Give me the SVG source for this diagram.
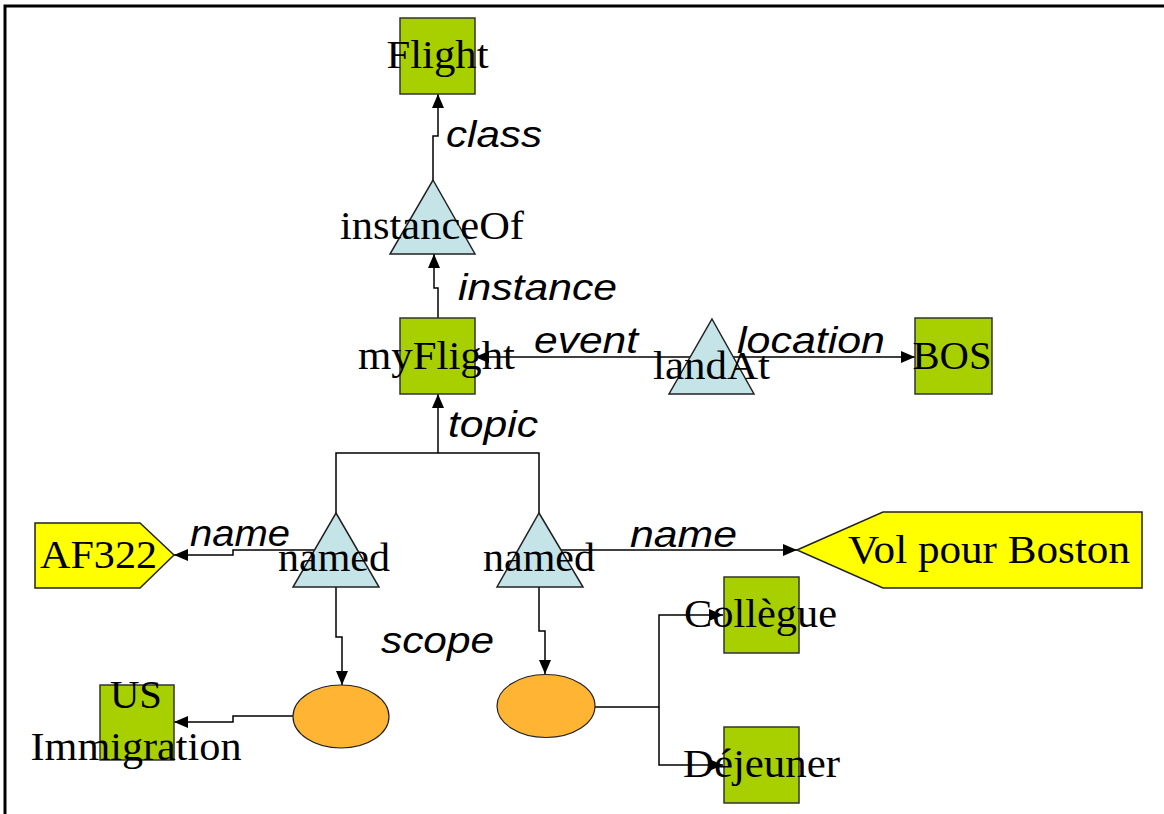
<svg xmlns="http://www.w3.org/2000/svg" width="1164" height="814" viewBox="0 0 1164 814">
<style>
.box{fill:#A8D000;stroke:#333;stroke-width:1.5}
.tri{fill:#C5E4E8;stroke:#222;stroke-width:1.5}
.tag{fill:#FFFF00;stroke:#222;stroke-width:1.5}
.ell{fill:#FFB533;stroke:#222;stroke-width:1.2}
.lbl{font-family:"Liberation Serif","Times New Roman",serif;font-size:40px;fill:#000}
.edge{font-family:"Liberation Sans",Arial,sans-serif;font-style:italic;font-size:37px;fill:#000}
.con{fill:none;stroke:#000;stroke-width:1.5}
</style>
<defs>
<marker id="arr" viewBox="0 0 14 12" refX="14" refY="6" markerWidth="14" markerHeight="12" markerUnits="userSpaceOnUse" orient="auto">
<path d="M0,0 L14,6 L0,12 Z" fill="#000"/>
</marker>
</defs>
<rect width="1164" height="814" fill="#fff"/>
<path d="M5,814 V6 H1164" fill="none" stroke="#000" stroke-width="3"/>

<g id="connectors">
<path class="con" d="M433,180 V136 H438 V94" marker-end="url(#arr)"/>
<path class="con" d="M438,318 V288 H434 V254" marker-end="url(#arr)"/>
<path class="con" d="M712,357 H475" marker-end="url(#arr)"/>
<path class="con" d="M712,357 H915" marker-end="url(#arr)"/>
<path class="con" d="M336,513 V453 H539 V513"/>
<path class="con" d="M438,453 V394" marker-end="url(#arr)"/>
<path class="con" d="M336,550 H233 V555 H174" marker-end="url(#arr)"/>
<path class="con" d="M539,550 H797" marker-end="url(#arr)"/>
<path class="con" d="M336,587 V637 H342 V685" marker-end="url(#arr)"/>
<path class="con" d="M539,587 V631 H545 V674" marker-end="url(#arr)"/>
<path class="con" d="M293,716 H233 V722 H174" marker-end="url(#arr)"/>
<path class="con" d="M595,707 H659 V615 H723" marker-end="url(#arr)"/>
<path class="con" d="M659,707 V765 H723" marker-end="url(#arr)"/>
</g>

<g id="node-flight">
<rect class="box" x="400" y="18" width="75" height="76"/>
<text class="lbl" x="437.5" y="68" text-anchor="middle" textLength="102" lengthAdjust="spacingAndGlyphs">Flight</text>
</g>
<g id="node-instanceOf">
<polygon class="tri" points="433,180 475,254 390,254"/>
<text class="lbl" x="432" y="239" text-anchor="middle" textLength="184" lengthAdjust="spacingAndGlyphs">instanceOf</text>
</g>
<g id="node-myFlight">
<rect class="box" x="400" y="318" width="75" height="76"/>
<text class="lbl" x="436.5" y="369" text-anchor="middle" textLength="157" lengthAdjust="spacingAndGlyphs">myFlight</text>
</g>
<g id="node-landAt">
<polygon class="tri" points="712,319 754,394 669,394"/>
<text class="lbl" x="711.5" y="379" text-anchor="middle" textLength="117" lengthAdjust="spacingAndGlyphs">landAt</text>
</g>
<g id="node-BOS">
<rect class="box" x="915" y="318" width="77" height="76"/>
<text class="lbl" x="952" y="369" text-anchor="middle" textLength="79" lengthAdjust="spacingAndGlyphs">BOS</text>
</g>
<g id="node-named-left">
<polygon class="tri" points="336,513 379,587 293,587"/>
<text class="lbl" x="334" y="571" text-anchor="middle" textLength="112" lengthAdjust="spacingAndGlyphs">named</text>
</g>
<g id="node-named-right">
<polygon class="tri" points="539,513 583,587 497,587"/>
<text class="lbl" x="539" y="571" text-anchor="middle" textLength="112" lengthAdjust="spacingAndGlyphs">named</text>
</g>
<g id="node-AF322">
<polygon class="tag" points="35,523 140,523 174,555 140,588 35,588"/>
<text class="lbl" x="98.5" y="568" text-anchor="middle" textLength="117" lengthAdjust="spacingAndGlyphs">AF322</text>
</g>
<g id="node-VolPourBoston">
<polygon class="tag" points="797,550 883,512 1142,512 1142,588 883,588"/>
<text class="lbl" x="989" y="563" text-anchor="middle" textLength="282" lengthAdjust="spacingAndGlyphs">Vol pour Boston</text>
</g>
<g id="node-scope-left">
<ellipse class="ell" cx="341" cy="716.5" rx="48" ry="31.5"/>
</g>
<g id="node-scope-right">
<ellipse class="ell" cx="546" cy="706" rx="49" ry="31.5"/>
</g>
<g id="node-USImmigration">
<rect class="box" x="100" y="685" width="74" height="75"/>
<text class="lbl" x="136" y="708" text-anchor="middle" textLength="52" lengthAdjust="spacingAndGlyphs">US</text>
<text class="lbl" x="136" y="760" text-anchor="middle" textLength="211" lengthAdjust="spacingAndGlyphs">Immigration</text>
</g>
<g id="node-Collegue">
<rect class="box" x="724" y="577" width="75" height="76"/>
<text class="lbl" x="760.5" y="627" text-anchor="middle" textLength="153" lengthAdjust="spacingAndGlyphs">Collègue</text>
</g>
<g id="node-Dejeuner">
<rect class="box" x="724" y="727" width="75" height="76"/>
<text class="lbl" x="761.5" y="777" text-anchor="middle" textLength="157" lengthAdjust="spacingAndGlyphs">Déjeuner</text>
</g>

<g id="edge-labels">
<text class="edge" x="446" y="147" textLength="96" lengthAdjust="spacingAndGlyphs">class</text>
<text class="edge" x="458" y="300" textLength="159" lengthAdjust="spacingAndGlyphs">instance</text>
<text class="edge" x="534" y="353" textLength="104" lengthAdjust="spacingAndGlyphs">event</text>
<text class="edge" x="737" y="353" textLength="148" lengthAdjust="spacingAndGlyphs">location</text>
<text class="edge" x="448" y="437" textLength="90" lengthAdjust="spacingAndGlyphs">topic</text>
<text class="edge" x="190" y="546" textLength="100" lengthAdjust="spacingAndGlyphs">name</text>
<text class="edge" x="630" y="547" textLength="107" lengthAdjust="spacingAndGlyphs">name</text>
<text class="edge" x="381" y="653" textLength="113" lengthAdjust="spacingAndGlyphs">scope</text>
</g>
</svg>
